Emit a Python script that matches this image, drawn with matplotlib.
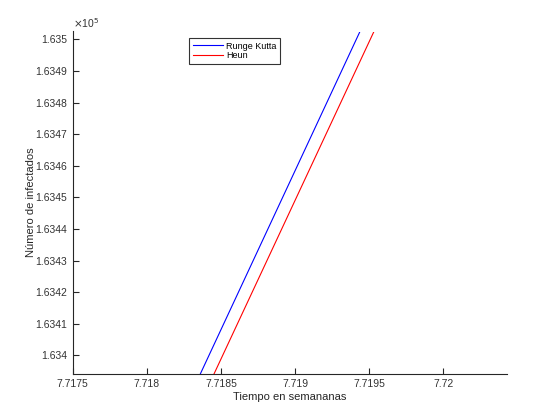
import matplotlib
matplotlib.use("Agg")
import matplotlib.pyplot as plt

plt.rcParams['font.family'] = ['Liberation Sans', 'DejaVu Sans']

# Data (zoomed view of two nearly straight curves)
t_rk = [7.7183605, 7.7194407]
y_rk = [163394.2, 163502.9]
t_heun = [7.7184528, 7.7195350]
y_heun = [163394.2, 163502.9]

xticks = [7.7175, 7.718, 7.7185, 7.719, 7.7195, 7.72]
xtick_labels = ['7.7175', '7.718', '7.7185', '7.719', '7.7195', '7.72']
yticks = [163400, 163410, 163420, 163430, 163440, 163450, 163460, 163470, 163480, 163490, 163500]
ytick_labels = ['1.634', '1.6341', '1.6342', '1.6343', '1.6344', '1.6345',
                '1.6346', '1.6347', '1.6348', '1.6349', '1.635']

fig = plt.figure(figsize=(5.6, 4.2), dpi=100)
ax = fig.add_axes([0.13, 0.11, 0.775, 0.815])

ax.plot(t_rk, y_rk, color='#0000ff', lw=0.8, label='Runge Kutta')
ax.plot(t_heun, y_heun, color='#ff0000', lw=0.8, label='Heun')

ax.set_xlim(7.7175, 7.720427)
ax.set_ylim(163394.2, 163502.5)
ax.set_xticks(xticks)
ax.set_xticklabels(xtick_labels)
ax.set_yticks(yticks)
ax.set_yticklabels(ytick_labels)

for s in ['top', 'right']:
    ax.spines[s].set_visible(False)
for s in ['left', 'bottom']:
    ax.spines[s].set_color('#262626')
    ax.spines[s].set_linewidth(0.8)

ax.tick_params(direction='in', length=4, width=0.8, colors='#262626',
               labelsize=7.5, labelcolor='#333333', pad=4)

ax.text(0.0, 1.005, r'$\times$10$^5$', transform=ax.transAxes, fontsize=7.5,
        color='#333333', ha='left', va='bottom')

ax.set_xlabel('Tiempo en semananas', fontsize=8, color='#262626', labelpad=2)
ax.set_ylabel('Número de infectados', fontsize=8, color='#262626', labelpad=-0.5)

leg = ax.legend(loc='upper left', bbox_to_anchor=(0.2677, 0.981), fontsize=6.5,
                frameon=True, fancybox=False, borderpad=0.4, labelspacing=0.05,
                handlelength=3.4, handletextpad=0.35, borderaxespad=0)
leg.get_frame().set_edgecolor('black')
leg.get_frame().set_linewidth(0.8)

fig.savefig('out.png', dpi=100)
